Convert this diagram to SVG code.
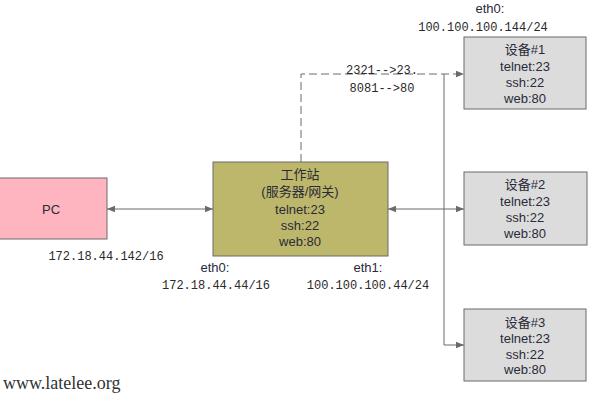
<svg xmlns="http://www.w3.org/2000/svg" width="600" height="400" viewBox="0 0 600 400">
<style>
.box{stroke:#6b6b6b;stroke-width:1}
.t{font-family:"Liberation Sans","Noto Sans CJK SC",sans-serif;font-size:13px;fill:#2a2a3a;text-anchor:middle}
.m{font-family:"Liberation Mono","Noto Sans CJK SC",monospace;font-size:12px;fill:#2a2a2a;text-anchor:middle}
.ln{stroke:#6b6b6b;stroke-width:1;fill:none}
</style>
<defs>
<marker id="ah" viewBox="0 0 10 10" refX="10" refY="5" markerWidth="8" markerHeight="8" orient="auto-start-reverse" markerUnits="userSpaceOnUse">
<path d="M0,1 L10,5 L0,9 z" fill="#6b6b6b"/>
</marker>
</defs>
<rect width="600" height="400" fill="#fff"/>
<g id="connectors">
<line class="ln" x1="107" y1="209" x2="213" y2="209" marker-start="url(#ah)" marker-end="url(#ah)"/>
<line class="ln" x1="388" y1="209" x2="464" y2="209" marker-start="url(#ah)" marker-end="url(#ah)"/>
<polyline class="ln" points="301,162 301,74 464,74" stroke-dasharray="8,4" marker-end="url(#ah)"/>
<polyline class="ln" points="444,74 444,345 464,345" marker-end="url(#ah)"/>
</g>
<g id="pc">
<rect class="box" x="-4" y="178" width="111" height="61" fill="#ffb5c0"/>
<text class="t" x="51" y="214" font-size="14">PC</text>
</g>
<g id="workstation">
<rect class="box" x="213" y="162" width="175" height="94" fill="#bdb76b"/>
<text class="t" x="300" y="179">工作站</text>
<text class="t" x="300" y="196">(服务器/网关)</text>
<text class="t" x="300" y="214">telnet:23</text>
<text class="t" x="300" y="230">ssh:22</text>
<text class="t" x="300" y="246">web:80</text>
</g>
<g id="device1">
<rect class="box" x="464" y="37" width="122" height="72" fill="#dcdcdc"/>
<text class="t" x="525" y="54">设备#1</text>
<text class="t" x="525" y="71">telnet:23</text>
<text class="t" x="525" y="87">ssh:22</text>
<text class="t" x="525" y="103">web:80</text>
</g>
<g id="device2">
<rect class="box" x="464" y="172" width="123" height="73" fill="#dcdcdc"/>
<text class="t" x="525" y="189">设备#2</text>
<text class="t" x="525" y="206">telnet:23</text>
<text class="t" x="525" y="222">ssh:22</text>
<text class="t" x="525" y="238">web:80</text>
</g>
<g id="device3">
<rect class="box" x="464" y="309" width="122" height="72" fill="#dcdcdc"/>
<text class="t" x="525" y="327">设备#3</text>
<text class="t" x="525" y="343">telnet:23</text>
<text class="t" x="525" y="359">ssh:22</text>
<text class="t" x="525" y="374">web:80</text>
</g>
<g id="labels">
<text class="t" x="490" y="13">eth0:</text>
<text class="m" x="483" y="31">100.100.100.144/24</text>
<text class="m" x="382" y="74">2321-->23.</text>
<text class="m" x="382" y="92">8081-->80</text>
<text class="m" x="106" y="260">172.18.44.142/16</text>
<text class="t" x="215" y="272">eth0:</text>
<text class="m" x="216" y="289">172.18.44.44/16</text>
<text class="t" x="368" y="272">eth1:</text>
<text class="m" x="368" y="289">100.100.100.44/24</text>
<text x="3" y="389" font-family="Liberation Serif,serif" font-size="18" fill="#333">www.latelee.org</text>
</g>
</svg>
